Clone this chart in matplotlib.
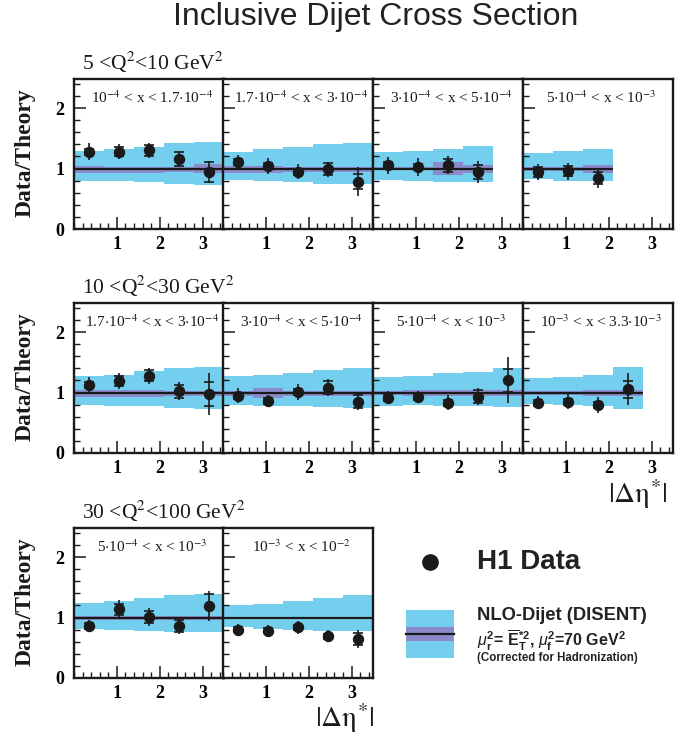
import matplotlib
matplotlib.use('Agg')
import matplotlib.pyplot as plt
from matplotlib.ticker import MultipleLocator, FixedLocator
from matplotlib.patches import Rectangle
from matplotlib.lines import Line2D

plt.rcParams['mathtext.fontset'] = 'custom'
plt.rcParams['mathtext.rm'] = 'Liberation Sans'
plt.rcParams['mathtext.bf'] = 'Liberation Sans:bold'
plt.rcParams['mathtext.it'] = 'Liberation Sans:italic'

# ---------------- data ----------------
eta_edges = [0.0, 0.7, 1.4, 2.1, 2.8, 3.5]
eta_centers = [0.35, 1.05, 1.75, 2.45, 3.15]

q2_labels = [r'5 <Q$^{2}$<10 GeV$^{2}$',
             r'10 <Q$^{2}$<30 GeV$^{2}$',
             r'30 <Q$^{2}$<100 GeV$^{2}$']

r1_xbins = [r'10$^{-4}$ < x < 1.7$\cdot$10$^{-4}$',
            r'1.7$\cdot$10$^{-4}$ < x < 3$\cdot$10$^{-4}$',
            r'3$\cdot$10$^{-4}$ < x < 5$\cdot$10$^{-4}$',
            r'5$\cdot$10$^{-4}$ < x < 10$^{-3}$']
r2_xbins = [r'1.7$\cdot$10$^{-4}$ < x < 3$\cdot$10$^{-4}$',
            r'3$\cdot$10$^{-4}$ < x < 5$\cdot$10$^{-4}$',
            r'5$\cdot$10$^{-4}$ < x < 10$^{-3}$',
            r'10$^{-3}$ < x < 3.3$\cdot$10$^{-3}$']
r3_xbins = [r'5$\cdot$10$^{-4}$ < x < 10$^{-3}$',
            r'10$^{-3}$ < x < 10$^{-2}$']

# Data/Theory ratio, total error, statistical error
r1_ratio = [[1.28, 1.28, 1.30, 1.155, 0.945],
            [1.10, 1.045, 0.95, 0.99, 0.785],
            [1.055, 1.02, 1.055, 0.945],
            [0.945, 0.955, 0.84]]
r1_tot = [[0.14, 0.13, 0.13, 0.137, 0.18],
          [0.125, 0.13, 0.12, 0.125, 0.235],
          [0.14, 0.15, 0.15, 0.18],
          [0.13, 0.14, 0.17]]
r1_stat = [[0.05, 0.077, 0.09, 0.11, 0.165],
           [0.05, 0.05, 0.05, 0.10, 0.13],
           [0.05, 0.05, 0.11, 0.12],
           [0.08, 0.08, 0.10]]

r2_ratio = [[1.12, 1.19, 1.28, 1.02, 0.98],
            [0.945, 0.867, 1.005, 1.08, 0.85],
            [0.917, 0.933, 0.833, 0.933, 1.20],
            [0.833, 0.85, 0.794, 1.056]]
r2_tot = [[0.133, 0.133, 0.133, 0.147, 0.35],
          [0.125, 0.097, 0.13, 0.144, 0.133],
          [0.11, 0.10, 0.122, 0.147, 0.38],
          [0.105, 0.12, 0.125, 0.26]]
r2_stat = [[0.05, 0.083, 0.097, 0.11, 0.20],
           [0.05, 0.05, 0.05, 0.11, 0.11],
           [0.05, 0.05, 0.05, 0.11, 0.19],
           [0.05, 0.05, 0.05, 0.14]]

r3_ratio = [[0.863, 1.137, 1.008, 0.857, 1.188],
            [0.80, 0.784, 0.84, 0.69, 0.644]]
r3_tot = [[0.10, 0.146, 0.143, 0.13, 0.25],
          [0.10, 0.085, 0.105, 0.10, 0.155]]
r3_stat = [[0.05, 0.09, 0.10, 0.10, 0.20],
           [0.04, 0.04, 0.04, 0.04, 0.10]]

# NLO total uncertainty band (outer) and hadronisation-corrected band (inner)
r1_band_hi = [[1.29, 1.32, 1.36, 1.42, 1.44],
              [1.28, 1.32, 1.35, 1.41, 1.42],
              [1.28, 1.29, 1.33, 1.38],
              [1.25, 1.29, 1.33]]
r1_band_lo = [[0.80, 0.80, 0.77, 0.75, 0.72],
              [0.81, 0.80, 0.77, 0.75, 0.75],
              [0.81, 0.80, 0.78, 0.77],
              [0.82, 0.80, 0.79]]
r1_inner_hi = [[1.04, 1.03, 1.03, 1.02, 1.08],
               [1.04, 1.04, 1.02, 1.02, 1.03],
               [1.03, 1.03, 1.10, 1.06],
               [1.02, 1.02, 1.06]]
r1_inner_lo = [[0.92, 0.93, 0.93, 0.95, 0.92],
               [0.93, 0.93, 0.94, 0.94, 0.94],
               [0.97, 0.97, 0.90, 0.93],
               [0.96, 0.96, 0.93]]

r2_band_hi = [[1.28, 1.29, 1.36, 1.41, 1.42],
              [1.27, 1.29, 1.33, 1.38, 1.40],
              [1.26, 1.28, 1.32, 1.34, 1.40],
              [1.24, 1.26, 1.29, 1.43]]
r2_band_lo = [[0.79, 0.78, 0.77, 0.74, 0.72],
              [0.79, 0.78, 0.77, 0.755, 0.74],
              [0.78, 0.79, 0.78, 0.77, 0.755],
              [0.81, 0.79, 0.78, 0.72]]
r2_inner_hi = [[1.04, 1.04, 1.04, 1.03, 1.03],
               [1.02, 1.07, 1.02, 1.02, 1.02],
               [1.02, 1.04, 1.04, 1.04, 1.04],
               [1.02, 1.02, 1.04, 1.04]]
r2_inner_lo = [[0.92, 0.92, 0.92, 0.94, 0.94],
               [0.95, 0.905, 0.95, 0.95, 0.95],
               [0.96, 0.94, 0.94, 0.94, 0.94],
               [0.96, 0.96, 0.94, 0.94]]

r3_band_hi = [[1.24, 1.28, 1.33, 1.37, 1.39],
              [1.20, 1.23, 1.28, 1.33, 1.37]]
r3_band_lo = [[0.81, 0.795, 0.78, 0.767, 0.756],
              [0.84, 0.81, 0.795, 0.78, 0.77]]
r3_inner_hi = [[1.02, 1.02, 1.02, 1.02, 1.02],
               [1.015, 1.015, 1.015, 1.015, 1.015]]
r3_inner_lo = [[0.96, 0.96, 0.96, 0.96, 0.96],
               [0.975, 0.975, 0.975, 0.975, 0.975]]

# ---------------- style ----------------
CYAN = '#74CFEE'
PURPLE = '#8B8BCB'
BLACK = '#1a1a1a'
SERIF = 'Liberation Serif'
SANS = 'Liberation Sans'

W, H = 699, 738
fig = plt.figure(figsize=(W / 100, H / 100), dpi=100)

col_left = [74, 223, 373, 523]
row_top = [79, 303, 528]
pw, ph = 150, 150

rows = [
    (r1_xbins, r1_ratio, r1_tot, r1_stat, r1_band_hi, r1_band_lo, r1_inner_hi, r1_inner_lo),
    (r2_xbins, r2_ratio, r2_tot, r2_stat, r2_band_hi, r2_band_lo, r2_inner_hi, r2_inner_lo),
    (r3_xbins, r3_ratio, r3_tot, r3_stat, r3_band_hi, r3_band_lo, r3_inner_hi, r3_inner_lo),
]

for r, (xb, rat, tot, stat, bhi, blo, ihi, ilo) in enumerate(rows):
    for c in range(len(xb)):
        l = col_left[c]
        t = row_top[r]
        ax = fig.add_axes([l / W, 1 - (t + ph) / H, pw / W, ph / H])
        n = len(rat[c])
        edges = eta_edges[:n + 1]
        ax.stairs(bhi[c], edges, baseline=blo[c], fill=True, color=CYAN, lw=0, zorder=1)
        ax.stairs(ihi[c], edges, baseline=ilo[c], fill=True, color=PURPLE, lw=0, zorder=2)
        ax.hlines(1.0, 0, edges[-1], color=BLACK, lw=1.6, zorder=3)
        xs = eta_centers[:n]
        ax.errorbar(xs, rat[c], yerr=tot[c], fmt='o', color=BLACK, ms=7.2,
                    elinewidth=1.2, capsize=0, zorder=5)
        ax.errorbar(xs, rat[c], yerr=stat[c], fmt='none', ecolor=BLACK,
                    elinewidth=0, capsize=3.8, capthick=1.2, zorder=5)
        ax.set_xlim(0, 3.5)
        ax.set_ylim(0, 2.48)
        ax.xaxis.set_major_locator(FixedLocator([1, 2, 3]))
        ax.xaxis.set_minor_locator(MultipleLocator(0.2))
        ax.yaxis.set_major_locator(FixedLocator([0, 1, 2]))
        ax.yaxis.set_minor_locator(MultipleLocator(0.2))
        ax.tick_params(which='both', direction='in', top=False, right=False, color=BLACK)
        ax.tick_params(which='major', length=8.5, width=1.1)
        ax.tick_params(which='minor', length=4.5, width=1.0)
        ax.tick_params(axis='x', which='major', pad=5)
        ax.tick_params(axis='y', which='major', pad=7)
        for lab in ax.get_xticklabels() + ax.get_yticklabels():
            lab.set_fontfamily(SERIF)
            lab.set_fontweight('bold')
            lab.set_fontsize(13)
        if c != 0:
            ax.set_yticklabels([])
        for sp in ax.spines.values():
            sp.set_linewidth(1.7)
            sp.set_color(BLACK)
        ax.text(0.52, 0.875, xb[c], transform=ax.transAxes, ha='center', va='center',
                fontsize=11, family=SERIF, math_fontfamily='stix', color=BLACK)

    # row label and y label
    fig.text(82 / W, 1 - (row_top[r] - 9) / H, q2_labels[r], ha='left', va='baseline',
             fontsize=15.5, family=SERIF, math_fontfamily='stix', color=BLACK)
    fig.text(25 / W, 1 - (row_top[r] + ph / 2 - 1) / H, 'Data/Theory', rotation=90,
             ha='center', va='center', fontsize=17, family=SERIF, fontweight='bold', color=BLACK)

# x axis labels
fig.text(638 / W, 1 - 503 / H, r'$|\Delta\mathrm{\eta}^{*}|$', ha='center', va='baseline',
         fontsize=21, math_fontfamily='stix', color=BLACK)
fig.text(345 / W, 1 - 727 / H, r'$|\Delta\mathrm{\eta}^{*}|$', ha='center', va='baseline',
         fontsize=21, math_fontfamily='stix', color=BLACK)

# title
fig.text(376 / W, 1 - 17 / H, 'Inclusive Dijet Cross Section', ha='center', va='center',
         fontsize=23, family=SANS, color='#222222')

# legend
fig.add_artist(Line2D([430 / W], [1 - 562 / H], marker='o', ms=11, color=BLACK,
                      transform=fig.transFigure, linestyle='none'))
fig.text(477 / W, 1 - 562 / H, 'H1 Data', ha='left', va='center', fontsize=20,
         family=SANS, fontweight='bold', color='#222222')
fig.add_artist(Rectangle((406 / W, 1 - 658 / H), 48 / W, 48 / H, transform=fig.transFigure,
                         color=CYAN, lw=0))
fig.add_artist(Rectangle((406 / W, 1 - 641 / H), 48 / W, 14 / H, transform=fig.transFigure,
                         color=PURPLE, lw=0))
fig.add_artist(Line2D([406 / W, 454 / W], [1 - 634 / H, 1 - 634 / H], color=BLACK, lw=1.6,
                      transform=fig.transFigure))
fig.text(477 / W, 1 - 616 / H, 'NLO-Dijet (DISENT)', ha='left', va='center', fontsize=13.2,
         family=SANS, fontweight='bold', color='#222222')
fig.text(477 / W, 1 - 641 / H,
         r'$\mu_{\mathbf{r}}^{\mathbf{2}}$= $\overline{\mathbf{E}}_{\mathbf{T}}^{\mathbf{*2}}$, '
         r'$\mu_{\mathbf{f}}^{\mathbf{2}}$=70 GeV$^{\mathbf{2}}$',
         ha='left', va='center', fontsize=11.5, family=SANS, fontweight='bold',
         math_fontfamily='custom', color='#222222')
fig.text(477 / W, 1 - 658 / H, '(Corrected for Hadronization)', ha='left', va='center',
         fontsize=8.3, family=SANS, fontweight='bold', color='#222222')

fig.savefig('out.png', dpi=100)
